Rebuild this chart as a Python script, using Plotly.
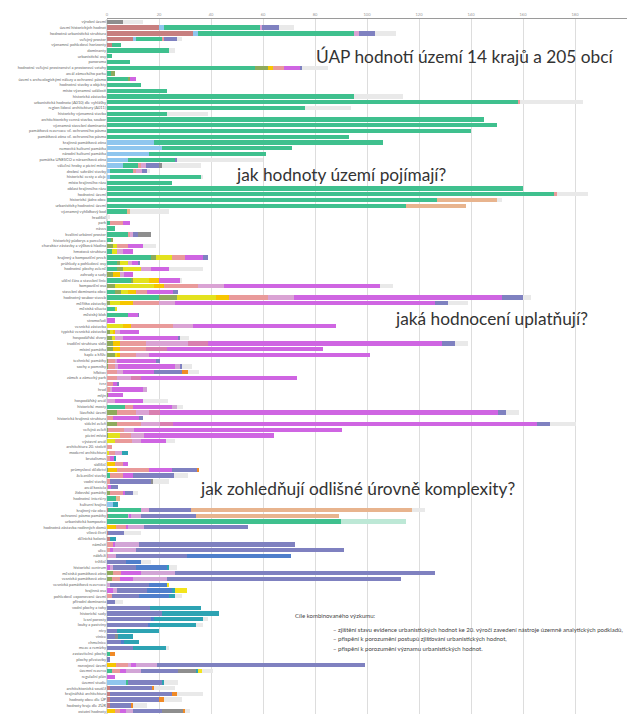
import plotly.graph_objects as go

N = 121
LABELS = [
    "výrobní území", "území historických hodnot", "hodnotná urbanistická struktura", "veřejný prostor",
    "významné pohledové horizonty", "dominanty", "urbanistické osy", "panorama",
    "hodnotné veřejné prostranství a prostorové vztahy", "areál zámeckého parku",
    "území s archeologickými nálezy a ochranné pásmo", "hodnotné stavby a objekty",
    "místo významné události", "historická zástavba", "urbanistická hodnota (A010) dle vyhlášky",
    "region lidové architektury (A011)", "historicky významná stavba", "architektonicky cenná stavba, soubor",
    "významná stavební dominanta", "památková rezervace vč. ochranného pásma", "památková zóna vč. ochranného pásma",
    "krajinná památková zóna", "nemovitá kulturní památka", "národní kulturní památka",
    "památka UNESCO a nárazníková zóna", "válečné hroby a pietní místa", "drobné sakrální stavby",
    "historické cesty a aleje", "místo krajinného rázu", "oblast krajinného rázu",
    "hodnotné území", "historické jádro obce", "urbanisticky hodnotné území", "významný vyhlídkový bod",
    "hradiště", "park", "náves", "kvalitní urbánní prostor", "historický půdorys a parcelace",
    "charakter zástavby a výšková hladina", "hmotová struktura", "krajinný a kompoziční prvek",
    "průhledy a pohledové osy", "hodnotné plochy zeleně", "zahrady a sady", "uliční čára a stavební linie",
    "kompoziční osa", "stavební dominanta obce", "hodnotný soubor staveb", "měřítko zástavby",
    "městská silueta", "městský blok", "stromořadí", "vesnická zástavba",
    "typická vesnická zástavba", "hospodářské dvory", "tradiční struktura sídla", "místní památka",
    "kaple a kříže", "technické památky", "sochy a pomníky", "hřbitov", "zámek a zámecký park",
    "tvrz", "hrad", "mlýn", "hospodářský areál", "historické mosty", "lázeňské území",
    "historická krajinná struktura", "sídelní zeleň", "veřejná zeleň", "pietní místo",
    "výstavní areál", "architektura 20. století", "moderní architektura", "brutalismus",
    "sídliště", "průmyslové dědictví", "železniční stavby", "vodní stavby", "areál kostela",
    "židovské památky", "hodnotné interiéry", "kulturní krajina", "krajinný ráz obce",
    "ochranné pásmo památky", "urbanistická kompozice", "hodnotná zástavba rodinných domů",
    "vilová čtvrť", "dělnická kolonie", "náměstí", "ulice", "nábřeží", "tržiště",
    "historické centrum", "městská památková zóna", "vesnická památková zóna", "vesnická památková rezervace",
    "krajinná osa", "pohledově exponované území", "přírodní dominanta", "vodní plochy a toky",
    "historické sady", "lesní porosty", "louky a pastviny", "nivy", "vinice", "chmelnice",
    "meze a remízky", "zastavitelné plochy", "plochy přestavby", "rozvojové území",
    "územní rezerva", "regulační plán", "územní studie", "architektonická soutěž",
    "krajinářská architektura", "hodnoty obce dle ÚP", "hodnoty kraje dle ZÚR", "ostatní hodnoty",
]

# stacked segment lengths per series, keyed by row number (1 = top)
ROSE = {2: 20, 3: 33, 4: 10, 5: 2, 86: 0.5, 87: 0.5, 90: 0.5, 91: 1, 117: 1, 118: 1, 119: 1, 120: 1}
LIGHTBLUE = {2: 2, 3: 2, 4: 1, 22: 18, 23: 21, 24: 16, 25: 8, 26: 6, 27: 1, 28: 1, 85: 2.3, 116: 7.4}
GREEN = {2: 37, 3: 60, 4: 10, 5: 3.3, 6: 24, 7: 2, 8: 9, 9: 57, 10: 1.4, 11: 8, 12: 13.2, 13: 23,
         14: 95, 15: 158, 16: 76, 17: 23, 18: 145, 19: 150, 20: 140, 21: 93, 22: 88, 23: 50, 24: 45,
         25: 18, 26: 6, 27: 9, 28: 35, 29: 25, 30: 160, 31: 172, 32: 127, 33: 115, 34: 8, 36: 1,
         37: 3.2, 38: 8, 39: 1.7, 41: 2, 42: 17, 43: 4, 44: 4, 46: 9.4, 48: 3.2, 49: 20, 51: 3, 52: 8,
         68: 7, 80: 1, 84: 3.5, 86: 12.7, 87: 7.6, 88: 90, 111: 1, 114: 1.9, 116: 0.7}
MINT = {88: 25}
OLIVE = {9: 5, 10: 1.6, 11: 1, 39: 0.6, 40: 2.3, 42: 2, 43: 1, 44: 2, 45: 2.3, 46: 0.6, 47: 3, 48: 2,
         49: 7, 50: 1, 55: 1, 56: 2.3, 57: 2.3, 58: 2.3, 59: 3, 60: 0.5, 61: 0.5, 66: 0.5, 69: 4,
         71: 4, 72: 0.5, 73: 0.5, 79: 0.5, 83: 1, 97: 2.3, 98: 2}
YELLOW = {40: 1.7, 41: 2, 42: 6, 43: 3, 44: 7, 46: 6, 47: 15, 48: 3, 49: 15, 50: 4, 51: 1, 54: 6.2,
          55: 1.5, 56: 0.7, 59: 1, 73: 4.4, 74: 3, 76: 0.8}
GOLD = {9: 2, 45: 2.6, 46: 4, 47: 4, 48: 3, 49: 5, 50: 5, 54: 3, 55: 0.5, 57: 2.7, 58: 2.7, 59: 1,
        78: 3.2, 79: 3.5, 89: 3.5, 113: 3.4, 121: 3.2}
SALMON = {4: 0.8, 9: 4, 15: 1, 26: 1, 27: 1, 31: 1, 36: 5, 38: 1, 40: 4, 42: 5, 47: 13, 48: 4, 49: 15,
          50: 10, 54: 16, 57: 10, 58: 10, 59: 6, 60: 2.5, 61: 2.7, 62: 4, 63: 4, 64: 2.3, 65: 1, 68: 3,
          69: 7.3, 70: 2.3, 71: 9.2, 72: 6, 73: 4.2, 74: 6.5, 75: 2.1, 76: 2.4, 77: 1, 78: 3, 79: 12,
          80: 5.2, 81: 1, 82: 0.5, 83: 5.2, 89: 3.9, 92: 2.3, 93: 1, 94: 0.5, 97: 3.2, 98: 3, 101: 2,
          113: 4.7, 114: 3.1, 121: 1.8}
LAVENDER = {2: 0.7, 3: 2, 26: 2, 27: 2.5, 38: 1, 41: 2, 43: 1.5, 44: 4, 45: 1.6, 47: 10, 49: 10, 50: 6,
            54: 8, 55: 2, 56: 3.2, 57: 16, 59: 5, 60: 1, 61: 1, 62: 2.2, 63: 5.2, 65: 1, 67: 3.2,
            69: 4.7, 71: 7, 72: 4, 73: 5, 74: 3.7, 76: 2.5, 86: 2.8, 87: 0.5, 94: 3, 113: 1.2}
ROSEPINK = {57: 8, 58: 8, 63: 4, 69: 4.3, 71: 5}
MAGENTA = {9: 6.3, 11: 2.3, 36: 3, 40: 6, 41: 4, 42: 7, 43: 2.5, 44: 7, 45: 3.5, 46: 8.3, 47: 60,
           48: 10, 49: 80, 50: 100, 52: 4, 53: 3.2, 54: 55, 55: 7.3, 56: 21, 57: 90, 58: 60, 59: 85,
           60: 15, 61: 22, 62: 12, 63: 60, 64: 1.6, 65: 11.7, 66: 5.7, 67: 10.7, 68: 15, 69: 130,
           70: 10, 71: 140, 72: 80, 73: 50, 74: 9.6, 77: 1.5, 78: 1.9, 79: 9, 80: 3.8, 82: 1, 83: 0.8,
           87: 0.5, 89: 0.6, 92: 0.9, 93: 1.3, 96: 1, 97: 7.7, 98: 5, 100: 2.3, 113: 2, 114: 2.4,
           115: 3.2, 121: 2.4}
LILAC = {61: 2, 65: 1.6, 68: 2, 87: 4, 89: 6.1, 92: 9, 93: 8.8, 96: 1.3, 97: 12.8, 98: 13, 99: 1,
         100: 1.7, 113: 7.8, 114: 5.8, 121: 2.6}
SLATE = {2: 6.3, 3: 6, 4: 5.1, 9: 0.7, 25: 1, 26: 5, 27: 2, 38: 2, 42: 1.7, 43: 0.5, 48: 2, 49: 8,
         50: 5, 52: 0.3, 56: 1, 57: 5, 60: 1.3, 61: 0.5, 62: 10.6, 64: 0.9, 69: 3, 70: 1.7, 71: 5,
         79: 9.6, 80: 15.8, 81: 16, 82: 2.7, 83: 3, 86: 16.3, 87: 21, 89: 40, 90: 6.2, 92: 60, 93: 80,
         94: 27.3, 95: 7.4, 96: 8.8, 97: 100, 98: 90, 99: 15, 100: 11.5, 101: 10.2, 102: 3.2,
         103: 16.6, 104: 21.2, 105: 17.1, 106: 15.9, 107: 4, 108: 3, 109: 5.5, 110: 10, 112: 1,
         113: 80, 114: 14.2, 116: 13.1, 117: 16.3, 118: 24, 119: 19, 120: 8.2, 121: 11.2}
BLUE = {94: 40, 95: 5.8, 96: 11.9, 99: 7, 100: 9.5, 101: 11.8, 105: 0.9, 106: 0.6, 109: 0.9}
GRAY = {1: 6, 26: 1, 38: 5, 81: 0.8, 108: 1.2, 114: 6.8, 121: 8.1}
TEAL = {76: 2.5, 77: 0.8, 85: 1.9, 91: 2.5, 96: 1, 100: 1, 101: 2, 103: 19.6, 104: 22, 105: 19,
        106: 17.7, 107: 16, 108: 5.8, 109: 5.8, 110: 12.8, 114: 0.8, 116: 0.8}
ORANGE = {62: 2.3, 79: 0.9, 111: 2.2, 117: 0.8, 118: 2.1, 119: 2, 120: 0.8, 121: 0.7}
PEACH = {32: 23, 33: 23, 34: 0.7, 84: 1.4, 86: 85, 87: 55}
YELLOW2 = {99: 1, 100: 4.8, 114: 1.7}
LIGHTGRAY = {1: 8, 2: 6, 3: 8, 4: 1.8, 6: 2, 9: 10, 14: 19, 15: 24, 16: 18, 17: 16, 25: 33, 26: 15,
             27: 1, 28: 1, 31: 12, 32: 2, 34: 15, 35: 1, 40: 5, 44: 13, 46: 0.7, 47: 5, 49: 3, 50: 8,
             56: 3.5, 57: 5, 61: 4, 62: 4.2, 67: 9.6, 68: 2.2, 69: 5, 71: 10, 74: 3.2, 80: 5.2, 81: 6,
             83: 2, 86: 5, 90: 6.5, 95: 3.9, 96: 3, 101: 3, 102: 3, 105: 2, 106: 2.8, 110: 1.2,
             114: 4, 116: 5.4, 117: 7.9, 118: 9.9, 119: 7, 120: 5.2, 121: 2}

SERIES = [
    ("rose", ROSE, "#c77f7f"), ("lightblue", LIGHTBLUE, "#8fc6ee"), ("green", GREEN, "#3fc08e"),
    ("mint", MINT, "#bde8d6"),
    ("olive", OLIVE, "#8eaa5c"), ("yellow", YELLOW, "#e3e21e"), ("gold", GOLD, "#f7c600"),
    ("salmon", SALMON, "#e99a9a"), ("lavender", LAVENDER, "#daa3d4"), ("rosepink", ROSEPINK, "#d97faf"),
    ("magenta", MAGENTA, "#cf65e2"), ("lilac", LILAC, "#d2a5d6"), ("slate", SLATE, "#7f81c0"),
    ("blue", BLUE, "#4f7fcb"), ("gray", GRAY, "#8e8e8e"), ("teal", TEAL, "#2da3b3"),
    ("orange", ORANGE, "#f08a26"), ("peach", PEACH, "#e8b48e"), ("yellow2", YELLOW2, "#f3e41c"),
    ("lightgray", LIGHTGRAY, "#e9e9e9"),
]

XTICKS = [0, 20, 40, 60, 80, 100, 120, 140, 160, 180, 200]

W, H = 628, 720
ML, MR, MT, MB = 107, 1, 19, 6


def px(xp):
    return (xp - ML) / (W - ML - MR)


def py(yp):
    return 1 - (yp - MT) / (H - MT - MB)


fig = go.Figure()
for name, data, color in SERIES:
    vals = [data.get(i + 1, 0) for i in range(N)]
    fig.add_trace(go.Bar(y=LABELS, x=vals, orientation="h", name=name,
                         marker=dict(color=color, line=dict(width=0)), showlegend=False))

fig.update_layout(
    width=W, height=H, barmode="stack", bargap=0.25,
    paper_bgcolor="white", plot_bgcolor="white",
    margin=dict(l=ML, r=MR, t=MT, b=MB, pad=0),
    font=dict(family="Lato", color="#444"),
)
fig.update_xaxes(side="top", range=[0, 200], tickvals=XTICKS, tickfont=dict(size=4, color="#999"),
                 showgrid=True, gridcolor="#dddddd", gridwidth=1, zeroline=True, zerolinecolor="#dddddd",
                 showline=True, linecolor="#9a9a9a", linewidth=1, ticks="", ticklen=0, automargin=False)
fig.update_yaxes(autorange="reversed", tickfont=dict(size=4, color="#666"), showgrid=False,
                 ticks="", ticklen=0, showline=False, automargin=False)

big = dict(family="Lato", size=17.3, color="#333333")
ann = [
    ("ÚAP hodnotí území 14 krajů a 205 obcí", 616, 57, "right"),
    ("jak hodnoty území pojímají?", 341, 175, "center"),
    ("jaká hodnocení uplatňují?", 491, 318, "center"),
    ("jak zohledňují odlišné úrovně komplexity?", 357, 488, "center"),
]
for t, xp, yc, anc in ann:
    fig.add_annotation(x=px(xp), xref="paper", xanchor=anc, y=py(yc), yref="paper",
                       yanchor="middle", text=t, showarrow=False, font=big)

small = dict(family="Lato", size=6.0, color="#444")
fig.add_annotation(x=px(293), xref="paper", xanchor="left", y=py(615), yref="paper",
                   yanchor="middle", text="Cíle kombinovaného výzkumu:", showarrow=False, font=small)
lines = [
    "– zjištění stavu evidence urbanistických hodnot ke 20. výročí zavedení nástroje územně analytických podkladů,",
    "– přispění k porozumění postupů zjišťování urbanistických hodnot,",
    "– přispění k porozumění významu urbanistických hodnot.",
]
for k, t in enumerate(lines):
    fig.add_annotation(x=px(331), xref="paper", xanchor="left", y=py(629 + 9.5 * k), yref="paper",
                       yanchor="middle", text=t, showarrow=False, font=small)

fig.write_html("out.html", config={"displayModeBar": False},
               post_script="document.body.style.margin='0';document.body.style.overflow='hidden';")
